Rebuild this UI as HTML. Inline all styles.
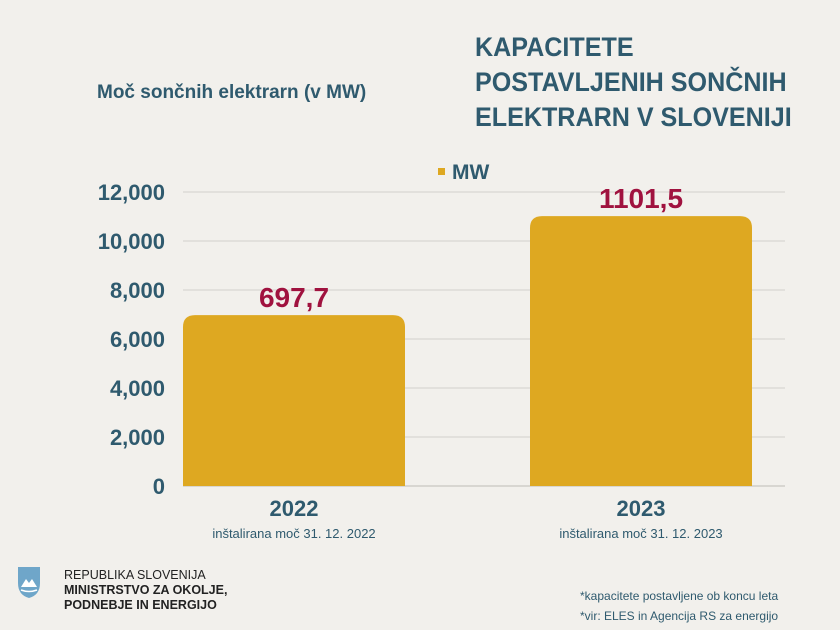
<!DOCTYPE html>
<html><head><meta charset="utf-8"><style>
body{margin:0;width:840px;height:630px;background:#f2f0ec;overflow:hidden;font-family:"Liberation Sans",sans-serif;position:relative}
.t{position:absolute;white-space:nowrap}
</style></head><body>
<div class="t" style="left:97px;top:82px;font-size:19px;font-weight:bold;color:#2f5a6e;">Moč sončnih elektrarn (v MW)</div>
<div class="t" style="left:475px;top:30px;font-size:27px;line-height:35px;font-weight:bold;color:#2f5a6e;transform:scaleX(0.93);transform-origin:left top">KAPACITETE<br>POSTAVLJENIH SONČNIH<br>ELEKTRARN V SLOVENIJI</div>
<svg id="chart" width="840" height="630" style="position:absolute;left:0;top:0"></svg>
<svg style="position:absolute;left:16px;top:565px" width="26" height="34"><path d="M2 2 H24 V18 Q24 30 13 33 Q2 30 2 18Z" fill="#6fa6c9"/><path d="M5 22 L10 14 L13 18 L16 14 L21 22Z" fill="#fff"/><path d="M5 25 Q13 28 21 25" stroke="#fff" fill="none" stroke-width="1.5"/></svg>
<div class="t" style="left:64px;top:568px;font-size:12.5px;line-height:15px;color:#222">REPUBLIKA SLOVENIJA<br><b>MINISTRSTVO ZA OKOLJE,<br>PODNEBJE IN ENERGIJO</b></div>
<div class="t" style="left:580px;top:586px;font-size:12px;line-height:20px;color:#2f5a6e">*kapacitete postavljene ob koncu leta<br>*vir: ELES in Agencija RS za energijo</div>
<script>
const categories=["2022","2023"];
const values=[6977,11015];
const valueLabels=["697,7","1101,5"];
const subLabels=["inštalirana moč 31. 12. 2022","inštalirana moč 31. 12. 2023"];
const ticks=[0,2000,4000,6000,8000,10000,12000];
const tickLabels=["0","2,000","4,000","6,000","8,000","10,000","12,000"];
const NS="http://www.w3.org/2000/svg",svg=document.getElementById('chart');
const y0=486,yMax=192,L=183,R=785;
const y=v=>y0-(v/12000)*(y0-yMax);
const bw=222;
const x=i=>L+i*347;
function mk(t,a,txt){const e=document.createElementNS(NS,t);for(const k in a)e.setAttribute(k,a[k]);if(txt!==undefined)e.textContent=txt;svg.appendChild(e);return e;}
ticks.forEach((t,i)=>{
 if(t>0){const g=mk('line',{x1:L,x2:R,y1:y(t),y2:y(t),stroke:'#dcdad6','stroke-width':1.5});
 
 }
 const l=mk('text',{x:165,y:y(t)+8,'text-anchor':'end','font-size':22,'font-weight':'bold',fill:'#2f5a6e','font-family':'Liberation Sans'},tickLabels[i]);
 
 
});
const ax=mk('line',{x1:L,x2:R,y1:y0,y2:y0,stroke:'#cfcdc8','stroke-width':1.5});


categories.forEach((c,i)=>{
 const xl=x(i),yt=y(values[i]),r=12;
 const b=mk('path',{d:`M${xl} ${y0}V${yt+r}Q${xl} ${yt} ${xl+r} ${yt}H${xl+bw-r}Q${xl+bw} ${yt} ${xl+bw} ${yt+r}V${y0}Z`,fill:'#dea821'});
 
 
 const v=mk('text',{x:xl+bw/2,y:yt-8,'text-anchor':'middle','font-size':28,'font-weight':'bold',fill:'#a0123f','font-family':'Liberation Sans'},valueLabels[i]);
 
 
 const cl=mk('text',{x:xl+bw/2,y:516,'text-anchor':'middle','font-size':22,'font-weight':'bold',fill:'#2f5a6e','font-family':'Liberation Sans'},c);
 
 
 const s=mk('text',{x:xl+bw/2,y:538,'text-anchor':'middle','font-size':13,fill:'#2f5a6e','font-family':'Liberation Sans'},subLabels[i]);
 
 
});
const lg=mk('rect',{x:438,y:168,width:7,height:7,fill:'#dea821'});


const lt=mk('text',{x:452,y:179,'font-size':21,'font-weight':'bold',fill:'#2f5a6e','font-family':'Liberation Sans'},'MW');


</script>
</body></html>
